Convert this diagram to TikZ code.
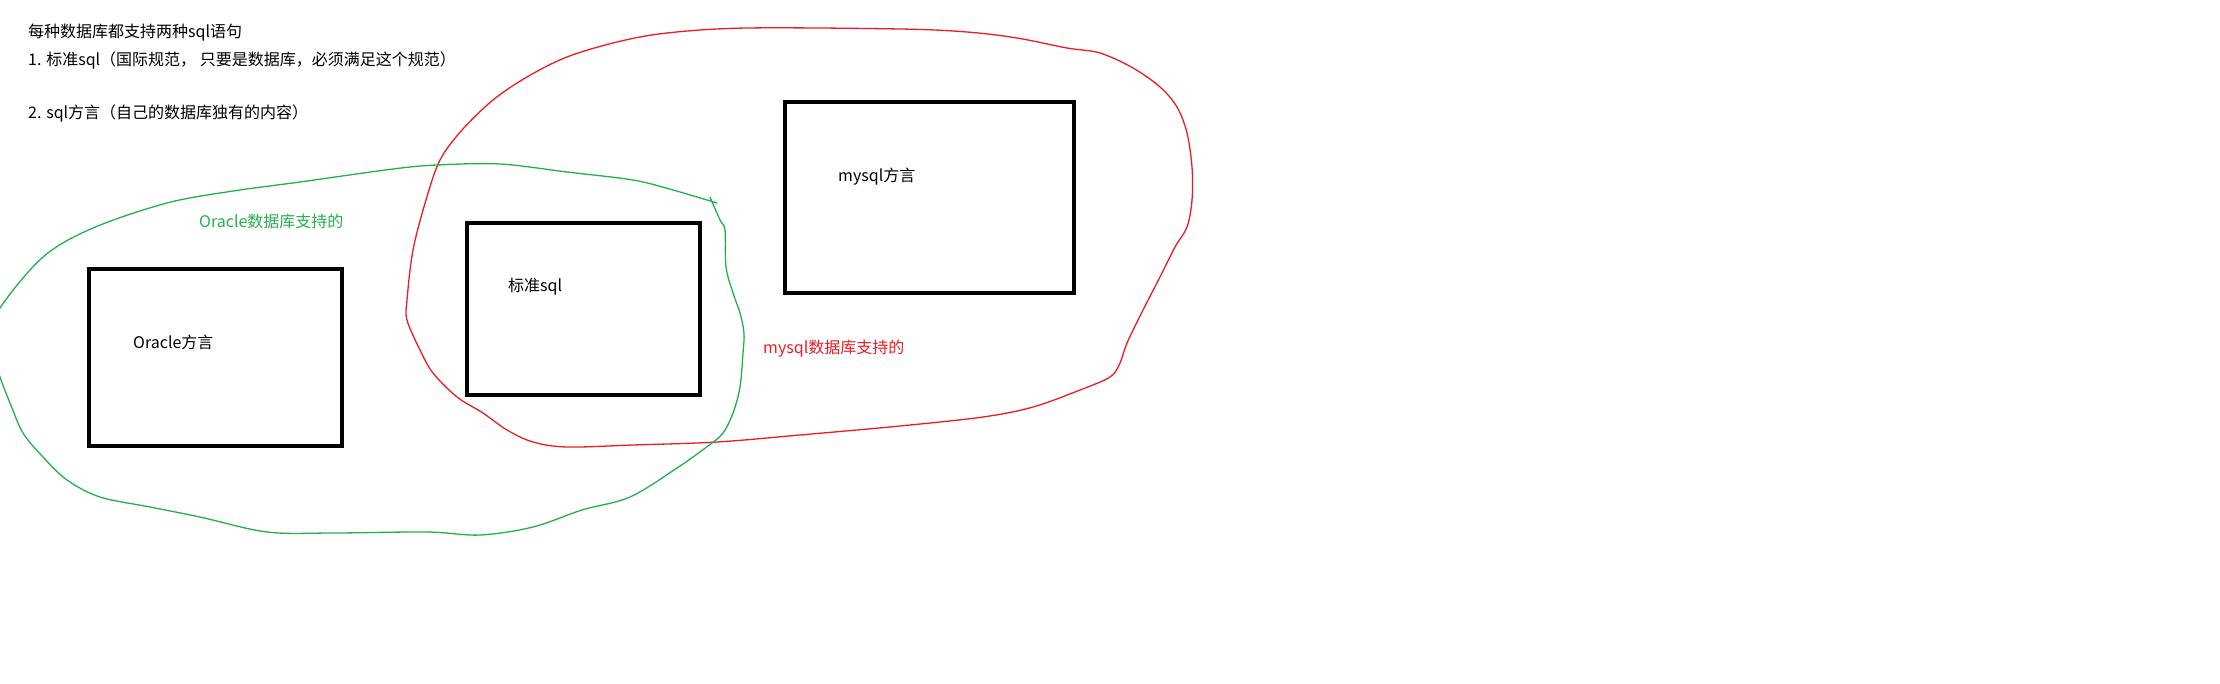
\documentclass[tikz,border=0pt]{standalone}
\usepackage{fontspec}
\newfontfamily\cjk{Noto Sans CJK SC}
\definecolor{paintred}{RGB}{237,28,36}
\definecolor{paintgreen}{RGB}{34,177,76}

\begin{document}
\begin{tikzpicture}[x=1pt, y=-1pt,
    txt/.style={font=\cjk\fontsize{16pt}{19pt}\selectfont, anchor=west, inner sep=0pt},
    dbbox/.style={draw, line width=4.5pt, inner sep=0pt},
    loop/.style={line width=1.3pt, line join=round}]
    \fill[white] (0,0) rectangle (2220,683);
    \clip (0,0) rectangle (2220,683);

    \node[txt] (title) at (28, 33) {每种数据库都支持两种sql语句};
    \node[txt] (std)   at (28, 60) {1. 标准sql（国际规范， 只要是数据库，必须满足这个规范）};
    \node[txt] (dial)  at (28,113) {2. sql方言（自己的数据库独有的内容）};

    \node[dbbox, minimum width=253, minimum height=177] (oraclebox) at (215.5,357.5) {};
    \node[dbbox, minimum width=233, minimum height=172] (stdbox)    at (583.5,309)   {};
    \node[dbbox, minimum width=289, minimum height=191] (mysqlbox)  at (929.5,197.5) {};

    \node[txt] (oraclelabel) at (133,342) {Oracle方言};
    \node[txt] (stdlabel)    at (508,287) {标准sql};
    \node[txt] (mysqllabel)  at (838,177) {mysql方言};

    \node[txt, text=paintgreen] (oracleset) at (199,221) {Oracle数据库支持的};
    \node[txt, text=paintred]   (mysqlset)  at (763,349) {mysql数据库支持的};

    % mysql
    \draw[loop, paintred] plot[smooth cycle, tension=0.55] coordinates {
        (407,300) (413,250) (426,200) (440,160) (462,130) (493,100) (527,77)
        (567,57) (617,42) (667,33) (747,28) (900,29) (967,32) (1017,38)
        (1067,48) (1100,53) (1133,68) (1160,87) (1177,107) (1187,133)
        (1192,167) (1192,200) (1187,227) (1175,247) (1160,277) (1143,310)
        (1127,343) (1120,363) (1110,377) (1080,390) (1033,407) (983,417)
        (900,426) (800,435) (717,442) (633,445) (567,447) (533,442)
        (507,430) (483,413) (457,397) (433,373) (420,350) (407,320)};

    % oracle
    \draw[loop, paintgreen] plot[smooth, tension=0.55] coordinates {
        (710,197) (720,220) (725,230) (726,267) (733,293) (740,313) (744,333)
        (743,353) (740,387) (733,413) (723,433) (708,446) (677,468) (630,497)
        (582,510) (533,527) (480,535) (427,532) (333,533) (267,532) (200,517)
        (150,507) (100,497) (67,480) (43,457) (23,433) (10,403) (0,377)
        (-12,340) (0,308) (43,257) (93,228) (167,203) (233,191) (300,182)
        (393,169) (437,165) (500,164) (567,172) (633,180) (673,190) (717,203)};

\end{tikzpicture}
\end{document}
